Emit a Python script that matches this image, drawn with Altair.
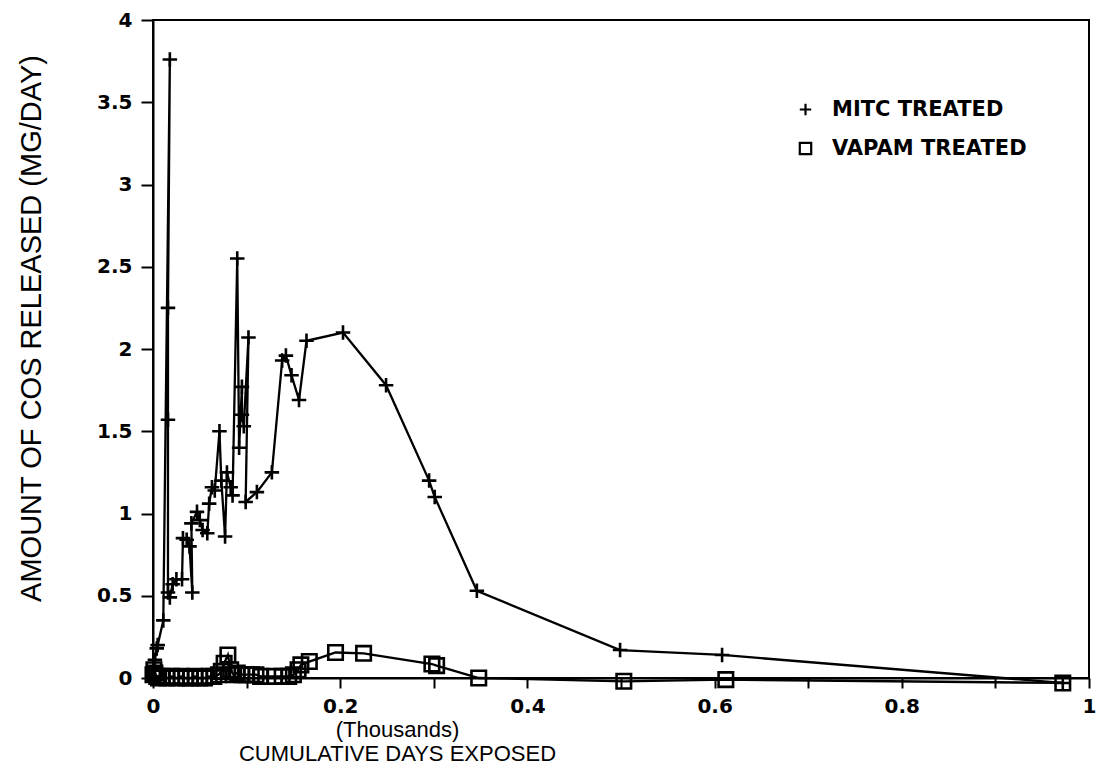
import altair as alt
import pandas as pd

# MITC treated samples: cumulative days exposed (thousands) and COS released (mg/day)
mitc_days = [0.000, 0.002, 0.004, 0.005, 0.011, 0.018, 0.016, 0.016, 0.016, 0.018,
             0.021, 0.025, 0.031, 0.032, 0.036, 0.039, 0.042, 0.041, 0.047, 0.050,
             0.053, 0.058, 0.060, 0.063, 0.066, 0.071, 0.073, 0.077, 0.079, 0.083,
             0.085, 0.090, 0.092, 0.095, 0.095, 0.097, 0.102, 0.099, 0.111, 0.127,
             0.138, 0.142, 0.148, 0.156, 0.164, 0.203, 0.249, 0.295, 0.301, 0.346,
             0.499, 0.608, 0.972]
mitc_cos = [0.01, 0.11, 0.18, 0.20, 0.35, 3.76, 2.25, 1.57, 0.52, 0.49,
            0.57, 0.60, 0.60, 0.85, 0.84, 0.80, 0.52, 0.94, 1.01, 0.96,
            0.90, 0.88, 1.06, 1.16, 1.14, 1.50, 1.20, 0.86, 1.25, 1.16,
            1.11, 2.55, 1.40, 1.77, 1.60, 1.53, 2.07, 1.07, 1.13, 1.25,
            1.93, 1.96, 1.84, 1.69, 2.05, 2.10, 1.78, 1.20, 1.10, 0.53,
            0.17, 0.14, -0.03]

# VAPAM treated samples
vapam_days = [0.000, 0.001, 0.002, 0.004, 0.006, 0.010, 0.015, 0.020, 0.025, 0.030,
              0.035, 0.040, 0.045, 0.050, 0.055, 0.060, 0.065, 0.070, 0.073, 0.076,
              0.080, 0.083, 0.086, 0.090, 0.095, 0.100, 0.105, 0.110, 0.115, 0.130,
              0.138, 0.145, 0.150, 0.155, 0.158, 0.167, 0.195, 0.225, 0.298, 0.303,
              0.348, 0.503, 0.612, 0.972]
vapam_cos = [0.02, 0.05, 0.03, 0.01, 0.00, 0.01, 0.00, 0.01, 0.00, 0.01,
             0.00, 0.00, 0.01, 0.00, 0.00, 0.01, 0.01, 0.02, 0.04, 0.09,
             0.14, 0.05, 0.02, 0.03, 0.02, 0.02, 0.02, 0.02, 0.01, 0.01,
             0.01, 0.01, 0.02, 0.05, 0.08, 0.10, 0.155, 0.15, 0.085, 0.075,
             0.00, -0.02, -0.01, -0.03]

series_names = ["MITC TREATED", "VAPAM TREATED"]
PLUS = "M-1,0L1,0M0,-1L0,1"

rows = []
for i, (d, c) in enumerate(zip(mitc_days, mitc_cos)):
    rows.append({"days": d, "cos": c, "series": series_names[0], "idx": i})
for i, (d, c) in enumerate(zip(vapam_days, vapam_cos)):
    rows.append({"days": d, "cos": c, "series": series_names[1], "idx": i})
df = pd.DataFrame(rows)

x_enc = alt.X(
    "days:Q",
    scale=alt.Scale(domain=[0, 1], nice=False, zero=False),
    axis=alt.Axis(
        values=[i / 10 for i in range(11)],
        labelExpr="round(datum.value*10) % 2 == 0 ? format(datum.value, '~g') : ''",
        title=["(Thousands)", "CUMULATIVE DAYS EXPOSED"],
        titleX=244, titleY=41, titleAlign="center", titleBaseline="top",
        titleLineHeight=24, titleFont="Liberation Sans", titleFontSize=22,
        titleFontWeight="normal", titleColor="black",
        labelFont="DejaVu Sans", labelFontWeight="bold", labelFontSize=20,
        labelColor="black", labelPadding=8, labelFlush=False,
        tickSize=10, tickWidth=2, tickColor="black",
        domainColor="black", domainWidth=2, grid=False,
    ),
)
y_enc = alt.Y(
    "cos:Q",
    scale=alt.Scale(domain=[0, 4], nice=False, zero=False),
    axis=alt.Axis(
        values=[i / 2 for i in range(9)], format="~g",
        title="AMOUNT OF COS RELEASED (MG/DAY)",
        titleX=-122, titleY=308, titleAlign="center", titleBaseline="middle",
        titleAngle=-90, titleFont="Liberation Sans", titleFontSize=29,
        titleFontWeight="normal", titleColor="black",
        labelFont="DejaVu Sans", labelFontWeight="bold", labelFontSize=20,
        labelColor="black", labelPadding=9,
        tickSize=12, tickWidth=2, tickColor="black",
        domainColor="black", domainWidth=2, grid=False,
    ),
)

lines = alt.Chart(df).mark_line(color="black", strokeWidth=2.3).encode(
    x=x_enc, y=y_enc, detail="series:N", order="idx:Q"
)

points = alt.Chart(df).mark_point(
    filled=False, color="black", strokeWidth=2.6, size=210, opacity=1
).encode(
    x=x_enc,
    y=y_enc,
    shape=alt.Shape(
        "series:N",
        scale=alt.Scale(domain=series_names, range=[PLUS, "square"]),
        legend=alt.Legend(
            title=None, orient="none", legendX=642, legendY=79,
            labelFont="DejaVu Sans", labelFontWeight="bold", labelFontSize=21,
            labelColor="black", labelOffset=16, labelLimit=0, rowPadding=17,
            padding=0, symbolSize=130, symbolStrokeWidth=2.2,
            symbolStrokeColor="black", symbolFillColor="transparent",
            symbolType="square",
        ),
    ),
)

chart = (
    alt.layer(lines, points)
    .properties(
        width=936, height=658,
        autosize=alt.AutoSizeParams(type="none"),
        padding={"left": 153, "top": 20, "right": 7, "bottom": 91},
        background="white",
    )
    .configure_view(stroke="black", strokeWidth=2)
)

chart.save("out.html", embed_options={"renderer": "svg", "actions": False})
